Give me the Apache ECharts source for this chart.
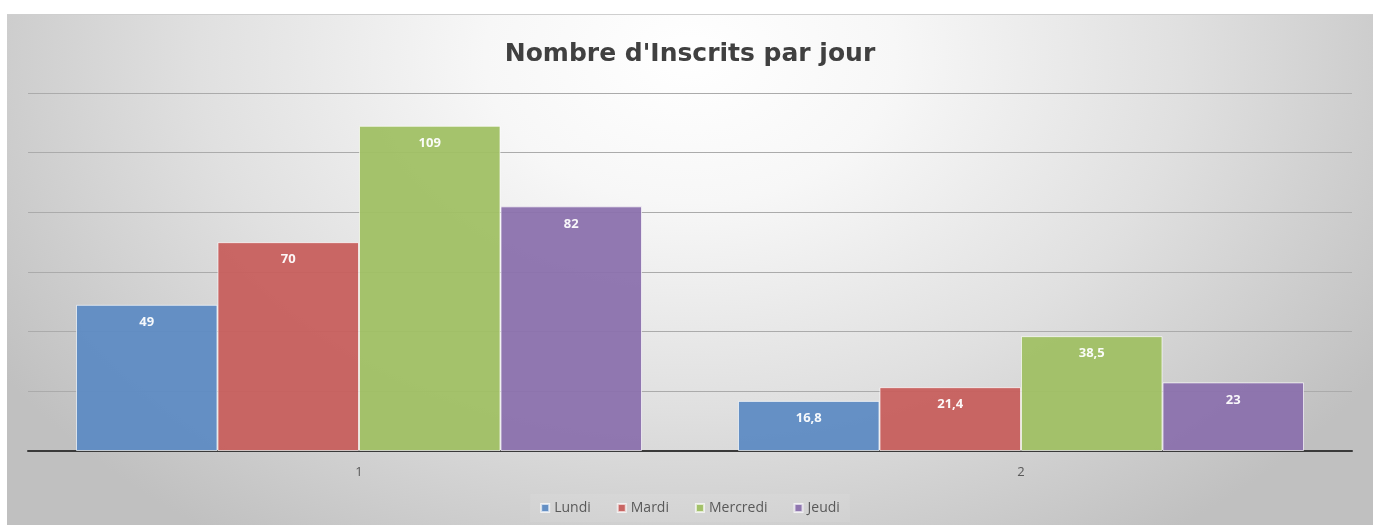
<!DOCTYPE html>
<html><head><meta charset="utf-8">
<script src="https://cdn.jsdelivr.net/npm/echarts@6/dist/echarts.min.js"></script>
<style>
html,body{margin:0;padding:0;background:#fff;width:1373px;height:525px;overflow:hidden;}
#c{position:absolute;left:7px;top:14px;width:1366px;height:511px;border-top:1px solid #cfcfcf;box-sizing:border-box;
background:radial-gradient(ellipse 60% 115% at 50% 8%, #ffffff 0%, #f7f7f7 25%, #e0e0e0 60%, #c0c0c0 100%);}
</style></head><body>
<div id="c"></div>
<script>
const title = "Nombre d'Inscrits par jour";
const categories = ["1", "2"];
const seriesNames = ["Lundi", "Mardi", "Mercredi", "Jeudi"];
const lundi = [49, 16.8];
const mardi = [70, 21.4];
const mercredi = [109, 38.5];
const jeudi = [82, 23];
const colors = ["#5e8bc3", "#c75f5d", "#a0c064", "#8b71ad"];
const values = [lundi, mardi, mercredi, jeudi];

const chart = echarts.init(document.getElementById('c'));
chart.setOption({
  animation: false,
  title: {text: title, left: 'center', top: 22,
    textStyle: {fontFamily: 'DejaVu Sans', fontWeight: 'bold', fontSize: 25, color: '#404040'}},
  legend: {bottom: 3, left: 'center', itemWidth: 8, itemHeight: 8, itemGap: 26, icon: 'rect',
    backgroundColor: 'rgba(255,255,255,0.08)', padding: [7, 10],
    textStyle: {fontFamily: 'Open Sans', fontSize: 14, color: '#595959'}},
  grid: {left: 21, right: 21, top: 78, bottom: 74, containLabel: false},
  xAxis: {type: 'category', data: categories,
    axisLine: {lineStyle: {color: '#3a3a3a', width: 2}}, axisTick: {show: false},
    axisLabel: {fontFamily: 'Open Sans', fontSize: 13, color: '#595959', margin: 15}},
  yAxis: {type: 'value', min: 0, max: 120, interval: 20,
    axisLabel: {show: false}, axisLine: {show: false}, axisTick: {show: false},
    splitLine: {lineStyle: {color: '#ababab', width: 1}}},
  series: seriesNames.map((n, i) => ({
    name: n, type: 'bar', data: values[i], barGap: '0%', barCategoryGap: '14.5%',
    itemStyle: {color: colors[i], borderColor: 'rgba(255,255,255,0.7)', borderWidth: 1, opacity: 0.95},
    label: {show: true, position: 'insideTop', distance: 11, color: '#ffffff', fontWeight: 'bold',
      fontFamily: 'Open Sans', fontSize: 13,
      formatter: p => String(p.value).replace('.', ',')}
  }))
});
</script></body></html>
